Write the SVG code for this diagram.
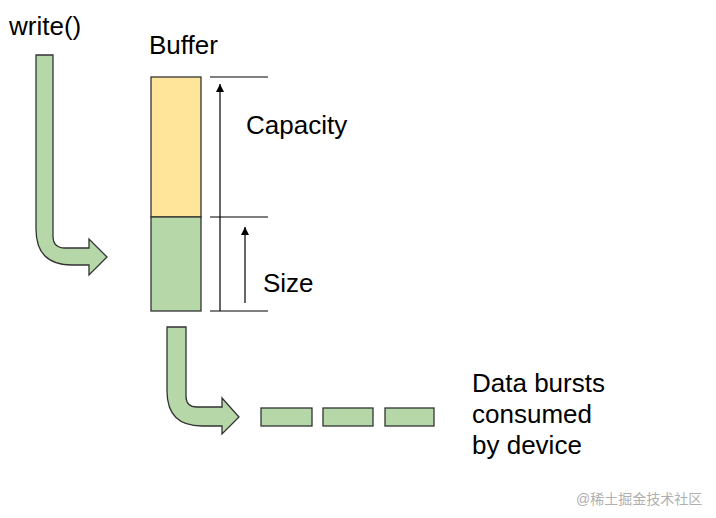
<svg xmlns="http://www.w3.org/2000/svg" width="716" height="518" viewBox="0 0 716 518">
<style>
.t{font-family:"Liberation Sans",Arial,sans-serif;font-size:26px;fill:#000}
.g{fill:#b6d7a8;stroke:#333;stroke-width:1.3}
.y{fill:#ffe599;stroke:#333;stroke-width:1.3}
.ln{stroke:#000;stroke-width:1.2;fill:none}
.wm{font-family:"Liberation Sans","Noto Sans CJK SC",sans-serif;font-size:14px;fill:#b0b0b0}
</style>
<defs>
<marker id="ah" viewBox="0 0 10 10" refX="10" refY="5" markerWidth="8" markerHeight="10" markerUnits="userSpaceOnUse" orient="auto">
<path d="M0,0 L10,5 L0,10 Z" fill="#000"/>
</marker>
</defs>
<rect width="716" height="518" fill="#fff"/>
<g id="write">
<text class="t" x="9" y="35">write()</text>
<path class="g" d="M36,55 H53 V236 Q53,248 65,248 H89 V239 L107,257 L89,275 V265 H72 Q36,265 36,229 Z"/>
</g>
<g id="buffer">
<text class="t" x="149" y="54">Buffer</text>
<rect class="y" x="151" y="77" width="50" height="140"/>
<rect class="g" x="151" y="217" width="50" height="94"/>
</g>
<g id="connectors">
<line class="ln" x1="210" y1="77" x2="268" y2="77"/>
<line class="ln" x1="210" y1="217" x2="268" y2="217"/>
<line class="ln" x1="210" y1="311" x2="268" y2="311"/>
<line class="ln" x1="220" y1="311" x2="220" y2="84" marker-end="url(#ah)"/>
<line class="ln" x1="245" y1="303" x2="245" y2="227" marker-end="url(#ah)"/>
</g>
<g id="labels">
<text class="t" x="246" y="134">Capacity</text>
<text class="t" x="263" y="292">Size</text>
</g>
<g id="output">
<path class="g" d="M167,327 H186 V396 Q186,407 197,407 H222 V398 L239,417 L222,434 V426 H202 Q167,426 167,391 Z"/>
<rect class="g" x="261" y="408" width="51" height="18"/>
<rect class="g" x="323" y="408" width="50" height="18"/>
<rect class="g" x="385" y="408" width="49" height="18"/>
</g>
<g id="device">
<text class="t" x="472" y="392">Data bursts</text>
<text class="t" x="472" y="423">consumed</text>
<text class="t" x="472" y="454">by device</text>
</g>
<text class="wm" x="576" y="504">@稀土掘金技术社区</text>
</svg>
